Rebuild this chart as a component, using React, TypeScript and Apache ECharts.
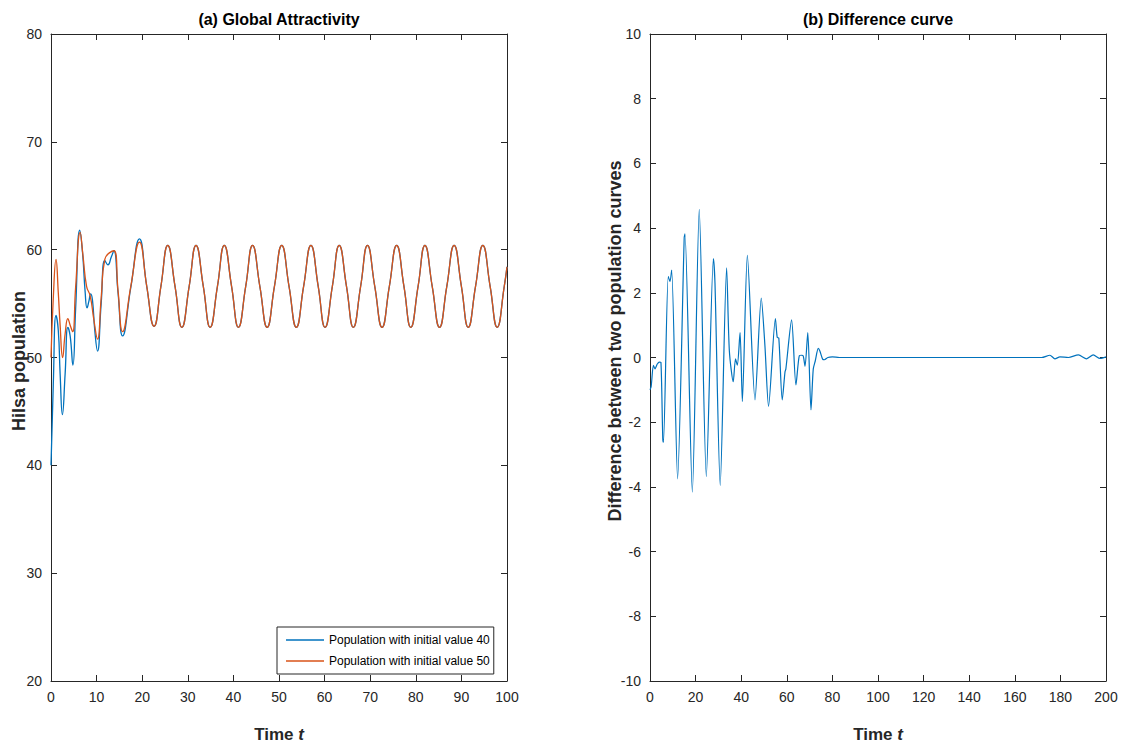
import React, { useEffect, useRef } from "react";
import * as echarts from "echarts";

// ---- data ----
const popAxis = [20, 80, 10]; // min, max, interval
const timeAxisA = [0, 100, 10];
const diffAxis = [-10, 10, 2];
const timeAxisB = [0, 200, 20];

const seriesNames = ["Population with initial value 40", "Population with initial value 50"];

const blueEarly: [number, number][] = [
  [0, 40.0], [0.5, 47.5], [1.1, 53.9], [1.6, 52.5], [2.0, 48.5], [2.5, 44.7], [3.1, 48.5],
  [3.7, 52.8], [4.2, 52.0], [4.8, 49.3], [5.4, 54.5], [6.3, 61.8], [6.9, 59.8], [7.5, 56.0],
  [7.9, 54.6], [8.3, 55.2], [8.7, 55.9], [9.1, 55.3], [9.6, 52.5], [10.2, 50.6], [11.0, 55.0],
  [11.8, 59.0], [12.5, 58.6], [13.2, 59.3], [13.8, 59.9], [14.7, 56.0], [15.7, 52.0],
  [17.5, 56.5], [19.4, 61.0],
];

const orangeEarly: [number, number][] = [
  [0, 50.0], [0.5, 55.5], [1.1, 59.1], [1.6, 56.0], [2.0, 53.0], [2.55, 50.0], [3.1, 52.2],
  [3.7, 53.6], [4.2, 53.0], [4.75, 52.4], [5.4, 56.5], [6.4, 61.6], [7.0, 59.5], [7.8, 56.6],
  [8.6, 55.7], [9.4, 53.5], [10.2, 51.7], [11.0, 55.5], [11.8, 59.1], [13.8, 59.9],
  [14.7, 56.2], [15.7, 52.4], [17.5, 56.6], [19.4, 60.7],
];

const sharedTail: [number, number][] = [
  [21.0, 56.6], [22.6, 52.9], [24.1, 56.6], [25.6, 60.4], [27.2, 56.6], [28.7, 52.8],
  [30.3, 56.6], [31.8, 60.4], [33.4, 56.6], [34.9, 52.8], [36.5, 56.6], [38.0, 60.4],
  [39.6, 56.6], [41.1, 52.8], [42.7, 56.6], [44.2, 60.4], [45.8, 56.6], [47.4, 52.8],
  [49.0, 56.6], [50.6, 60.4], [52.2, 56.6], [53.8, 52.8], [55.4, 56.6], [57.0, 60.4],
  [58.6, 56.6], [60.1, 52.8], [61.7, 56.6], [63.2, 60.4], [64.8, 56.6], [66.3, 52.8],
  [67.9, 56.6], [69.4, 60.4], [71.0, 56.6], [72.6, 52.8], [74.2, 56.6], [75.8, 60.4],
  [77.4, 56.6], [78.9, 52.8], [80.5, 56.6], [82.0, 60.4], [83.6, 56.6], [85.2, 52.8],
  [86.8, 56.6], [88.4, 60.4], [90.0, 56.6], [91.5, 52.8], [93.1, 56.6], [94.7, 60.4],
  [96.3, 56.6], [97.85, 52.8], [99.4, 56.6], [100, 58.4],
];

const diffCurve: [number, number][] = [
  [0, -1.0], [0.5, -0.9], [1.5, -0.24], [2.2, -0.35], [3.2, -0.2], [4.1, -0.14], [4.8, -0.15],
  [5.6, -2.5], [5.9, -2.62], [8.0, 2.5], [8.77, 2.35], [9.5, 2.7], [12.1, -3.75], [15.0, 3.7],
  [15.35, 3.82], [18.57, -4.16], [21.6, 4.58], [24.7, -3.68], [27.8, 3.06], [28.5, 2.3],
  [30.8, -3.95], [33.6, 2.77], [34.8, 0.21], [36.5, -0.75], [37.5, -0.04], [38.3, -0.24],
  [39.5, 0.77], [40.5, -1.36], [42.7, 3.16], [46.05, -1.31], [48.8, 1.84], [50.4, 0.37],
  [52.0, -1.51], [55.0, 1.2], [55.8, 0.62], [56.5, 0.6], [58.0, -1.31], [59.2, -0.45],
  [59.6, -0.35], [62.1, 1.16], [64.0, -0.85], [65.5, 0.06], [66.5, 0.07], [67.2, 0.05],
  [68.0, -0.27], [69.2, 0.77], [70.6, -1.62], [71.6, -0.36], [72.5, -0.1], [73.8, 0.28],
  [74.5, 0.2], [75.7, -0.05], [76.5, -0.07], [78, 0.0], [80, 0.02], [83, 0.0], [100, 0.0],
  [120, 0.0], [140, 0.0], [160, 0.0], [171.8, 0.0], [175.4, 0.07], [177.6, -0.04],
  [179.8, 0.02], [183.5, 0.0], [187.9, 0.08], [191.5, -0.04], [194.4, 0.08], [197.4, -0.03],
  [200, 0.02],
];

// ---- styles ----
const AXIS = "#262626";
const FONT = "'Liberation Sans', Arial, Helvetica, sans-serif";
const BLUE = "#0072BD";
const ORANGE = "#D95319";

function axisBase(gridIndex: number, range: number[], position: string, showLabels: boolean) {
  return {
    gridIndex,
    type: "value",
    min: range[0],
    max: range[1],
    interval: range[2],
    position,
    axisLine: { show: true, onZero: false, lineStyle: { color: AXIS, width: 1 } },
    axisTick: { show: true, inside: true, length: 6, lineStyle: { color: AXIS, width: 1 } },
    splitLine: { show: false },
    axisLabel: {
      show: showLabels,
      color: AXIS,
      fontSize: 14,
      fontFamily: FONT,
      margin: 9,
    },
  };
}

export default function App() {
  const ref = useRef<HTMLDivElement | null>(null);

  useEffect(() => {
    if (!ref.current) return;
    const chart = echarts.init(ref.current, null, { renderer: "svg" });

    const timeName = {
      name: "{a|Time }{b|t}",
      nameLocation: "middle",
      nameGap: 45,
      nameTextStyle: {
        rich: {
          a: { fontFamily: FONT, fontSize: 17, fontWeight: "bold", color: AXIS },
          b: { fontFamily: FONT, fontSize: 17, fontWeight: "bold", fontStyle: "italic", color: AXIS },
        },
      },
    };

    const option: any = {
      animation: false,
      backgroundColor: "#ffffff",
      title: [
        {
          text: "(a) Global Attractivity",
          left: 279,
          top: 11,
          textAlign: "center",
          padding: 0,
          textStyle: { fontFamily: FONT, fontSize: 16, fontWeight: "bold", color: "#000" },
        },
        {
          text: "(b) Difference curve",
          left: 878,
          top: 11,
          textAlign: "center",
          padding: 0,
          textStyle: { fontFamily: FONT, fontSize: 16, fontWeight: "bold", color: "#000" },
        },
      ],
      grid: [
        { left: 51, top: 34, width: 456, height: 656, show: false },
        { left: 650, top: 34, width: 456, height: 656, show: false },
      ],
      xAxis: [
        { ...axisBase(0, timeAxisA, "bottom", true), ...timeName },
        axisBase(0, timeAxisA, "top", false),
        { ...axisBase(1, timeAxisB, "bottom", true), ...timeName },
        axisBase(1, timeAxisB, "top", false),
      ],
      yAxis: [
        axisBase(0, popAxis, "left", true),
        axisBase(0, popAxis, "right", false),
        axisBase(1, diffAxis, "left", true),
        axisBase(1, diffAxis, "right", false),
      ],
      legend: {
        left: 277,
        top: 627,
        orient: "vertical",
        data: seriesNames,
        icon: "rect",
        backgroundColor: "#ffffff",
        borderColor: AXIS,
        borderWidth: 1,
        borderRadius: 0,
        padding: [6, 4, 6, 9],
        itemGap: 7,
        itemWidth: 38,
        itemHeight: 1.4,
        textStyle: { fontFamily: FONT, fontSize: 12, color: "#000", lineHeight: 14 },
      },
      graphic: [
        {
          type: "text",
          x: 18.5,
          y: 361,
          rotation: Math.PI / 2,
          style: {
            text: "Hilsa population",
            font: `bold 18px ${FONT}`,
            fill: AXIS,
            align: "center",
            verticalAlign: "middle",
          },
        },
        {
          type: "text",
          x: 614.5,
          y: 341,
          rotation: Math.PI / 2,
          style: {
            text: "Difference between two population curves",
            font: `bold 18px ${FONT}`,
            fill: AXIS,
            align: "center",
            verticalAlign: "middle",
          },
        },
      ],
      series: [
        {
          name: seriesNames[0],
          type: "line",
          xAxisIndex: 0,
          yAxisIndex: 0,
          data: [...blueEarly, ...sharedTail],
          symbol: "none",
          smooth: 0.5,
          lineStyle: { color: BLUE, width: 1.3 },
          itemStyle: { color: BLUE },
        },
        {
          name: seriesNames[1],
          type: "line",
          xAxisIndex: 0,
          yAxisIndex: 0,
          data: [...orangeEarly, ...sharedTail],
          symbol: "none",
          smooth: 0.5,
          lineStyle: { color: ORANGE, width: 1.3 },
          itemStyle: { color: ORANGE },
        },
        {
          name: "Difference",
          type: "line",
          xAxisIndex: 2,
          yAxisIndex: 2,
          data: diffCurve,
          symbol: "none",
          smooth: 0.25,
          lineStyle: { color: BLUE, width: 1.2 },
          itemStyle: { color: BLUE },
        },
      ],
    };

    chart.setOption(option);
    return () => {
      chart.dispose();
    };
  }, []);

  return (
    <div
      ref={ref}
      style={{ position: "fixed", left: 0, top: 0, width: 1124, height: 748, background: "#fff" }}
    />
  );
}
